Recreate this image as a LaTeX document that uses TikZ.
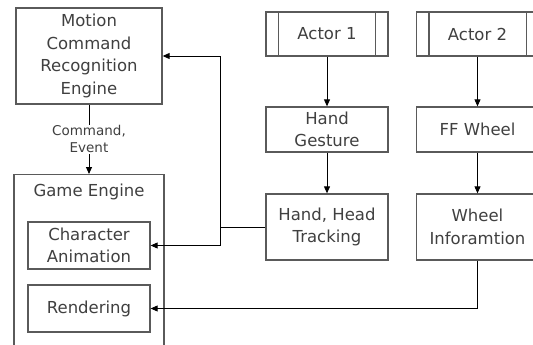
\documentclass[tikz,border=0pt]{standalone}
\usepackage{fontspec}
\setsansfont{DejaVu Sans}
\usetikzlibrary{calc,arrows.meta}

\definecolor{boxgray}{HTML}{5A5A5A}
\definecolor{txtgray}{HTML}{404040}

\tikzset{
  blk/.style={draw=boxgray, line width=1.3pt, fill=white, inner sep=0pt,
    align=center, text=txtgray, minimum width=122, minimum height=45,
    font=\sffamily\fontsize{16.5}{22.5}\selectfont},
  flow/.style={->, line width=0.9pt, black},
  >={Triangle[length=7pt,width=6pt]}
}

\begin{document}
\begin{tikzpicture}[x=1pt, y=-1pt]
  \clip (0,0) rectangle (533,345);
  \fill[white] (0,0) rectangle (533,345);
  % left column
  \node[blk, minimum width=146, minimum height=96] (motion) at (89,56)
    {Motion\\Command\\Recognition\\Engine};
  \node[blk, minimum width=150, minimum height=200, anchor=north] (game) at (89,174) {};
  \node[text=txtgray, font=\sffamily\fontsize{16.5}{22.5}\selectfont] (gametitle) at (89,192) {Game Engine};
  \node[blk, minimum height=47] (anim) at (89,245.5) {Character\\Animation};
  \node[blk, minimum height=47] (render) at (89,308.5) {Rendering};
  % actors
  \node[blk, minimum height=44] (actor1) at (327,34) {Actor 1};
  \node[blk, minimum height=44] (actor2) at (477.5,34) {Actor 2};
  \foreach \a in {actor1,actor2} {
    \draw[boxgray, line width=1.3pt] ($(\a.north west)+(13,0)$) -- ($(\a.south west)+(13,0)$);
    \draw[boxgray, line width=1.3pt] ($(\a.north east)+(-13,0)$) -- ($(\a.south east)+(-13,0)$);
  }
  \node[blk] (gesture) at (327,129.5) {Hand\\Gesture};
  \node[blk] (wheel) at (477.5,129.5) {FF Wheel};
  \node[blk, minimum height=66] (tracking) at (327,227) {Hand, Head\\Tracking};
  \node[blk, minimum height=66] (info) at (477.5,227) {Wheel\\Inforamtion};
  % connectors
  \draw[flow] (actor1) -- (gesture);
  \draw[flow] (gesture) -- (tracking);
  \draw[flow] (actor2) -- (wheel);
  \draw[flow] (wheel) -- (info);
  \coordinate (split) at (220,227);
  \draw[line width=0.9pt] (tracking.west) -- (split);
  \draw[flow] (split) |- (motion.east);
  \draw[flow] (split) |- (anim.east);
  \draw[flow] (info.south) |- (render.east);
  \draw[flow] (motion) -- node[fill=white, inner sep=1pt, align=center, text=txtgray,
    font=\sffamily\fontsize{13.5}{17}\selectfont] (cmdlabel) {Command,\\Event} (game);
\end{tikzpicture}
\end{document}
